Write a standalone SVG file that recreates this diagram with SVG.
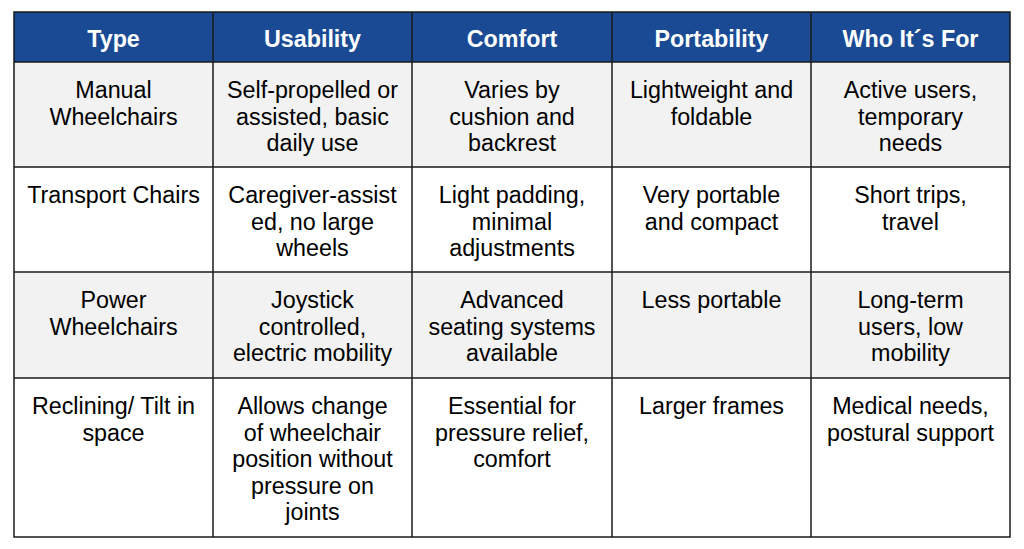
<svg xmlns="http://www.w3.org/2000/svg" width="1024" height="549" viewBox="0 0 1024 549">
<style>
text{font-family:"Liberation Sans",Arial,sans-serif;font-size:23.3px;text-anchor:middle;fill:#000}
.h{font-weight:bold;fill:#fff}
line{stroke:#1a1a1a;stroke-width:1.5}
</style>
<rect width="1024" height="549" fill="#fff"/>
<g id="bg">
<rect x="14" y="12" width="996" height="50" fill="#1a4a94"/>
<rect x="14" y="62" width="996" height="105" fill="#f2f2f2"/>
<rect x="14" y="272" width="996" height="106" fill="#f2f2f2"/>
</g>
<g id="grid">
<rect x="14" y="12" width="996" height="525" fill="none" stroke="#1a1a1a" stroke-width="1.5"/>
<line x1="14" y1="62" x2="1010" y2="62"/>
<line x1="14" y1="167" x2="1010" y2="167"/>
<line x1="14" y1="272" x2="1010" y2="272"/>
<line x1="14" y1="378" x2="1010" y2="378"/>
<line x1="213" y1="12" x2="213" y2="537"/>
<line x1="412" y1="12" x2="412" y2="537"/>
<line x1="612" y1="12" x2="612" y2="537"/>
<line x1="811" y1="12" x2="811" y2="537"/>
</g>
<g id="header">
<text class="h" x="113.5" y="47">Type</text>
<text class="h" x="312.5" y="47">Usability</text>
<text class="h" x="512" y="47">Comfort</text>
<text class="h" x="711.5" y="47">Portability</text>
<text class="h" x="910.5" y="47">Who It´s For</text>
</g>
<g id="row1">
<text x="113.5" y="98">Manual<tspan x="113.5" dy="26.5">Wheelchairs</tspan></text>
<text x="312.5" y="98">Self-propelled or<tspan x="312.5" dy="26.5">assisted, basic</tspan><tspan x="312.5" dy="26.5">daily use</tspan></text>
<text x="512" y="98">Varies by<tspan x="512" dy="26.5">cushion and</tspan><tspan x="512" dy="26.5">backrest</tspan></text>
<text x="711.5" y="98">Lightweight and<tspan x="711.5" dy="26.5">foldable</tspan></text>
<text x="910.5" y="98">Active users,<tspan x="910.5" dy="26.5">temporary</tspan><tspan x="910.5" dy="26.5">needs</tspan></text>
</g>
<g id="row2">
<text x="113.5" y="203">Transport Chairs</text>
<text x="312.5" y="203">Caregiver-assist<tspan x="312.5" dy="26.5">ed, no large</tspan><tspan x="312.5" dy="26.5">wheels</tspan></text>
<text x="512" y="203">Light padding,<tspan x="512" dy="26.5">minimal</tspan><tspan x="512" dy="26.5">adjustments</tspan></text>
<text x="711.5" y="203">Very portable<tspan x="711.5" dy="26.5">and compact</tspan></text>
<text x="910.5" y="203">Short trips,<tspan x="910.5" dy="26.5">travel</tspan></text>
</g>
<g id="row3">
<text x="113.5" y="308">Power<tspan x="113.5" dy="26.5">Wheelchairs</tspan></text>
<text x="312.5" y="308">Joystick<tspan x="312.5" dy="26.5">controlled,</tspan><tspan x="312.5" dy="26.5">electric mobility</tspan></text>
<text x="512" y="308">Advanced<tspan x="512" dy="26.5">seating systems</tspan><tspan x="512" dy="26.5">available</tspan></text>
<text x="711.5" y="308">Less portable</text>
<text x="910.5" y="308">Long-term<tspan x="910.5" dy="26.5">users, low</tspan><tspan x="910.5" dy="26.5">mobility</tspan></text>
</g>
<g id="row4">
<text x="113.5" y="414">Reclining/ Tilt in<tspan x="113.5" dy="26.5">space</tspan></text>
<text x="312.5" y="414">Allows change<tspan x="312.5" dy="26.5">of wheelchair</tspan><tspan x="312.5" dy="26.5">position without</tspan><tspan x="312.5" dy="26.5">pressure on</tspan><tspan x="312.5" dy="26.5">joints</tspan></text>
<text x="512" y="414">Essential for<tspan x="512" dy="26.5">pressure relief,</tspan><tspan x="512" dy="26.5">comfort</tspan></text>
<text x="711.5" y="414">Larger frames</text>
<text x="910.5" y="414">Medical needs,<tspan x="910.5" dy="26.5">postural support</tspan></text>
</g>
</svg>
